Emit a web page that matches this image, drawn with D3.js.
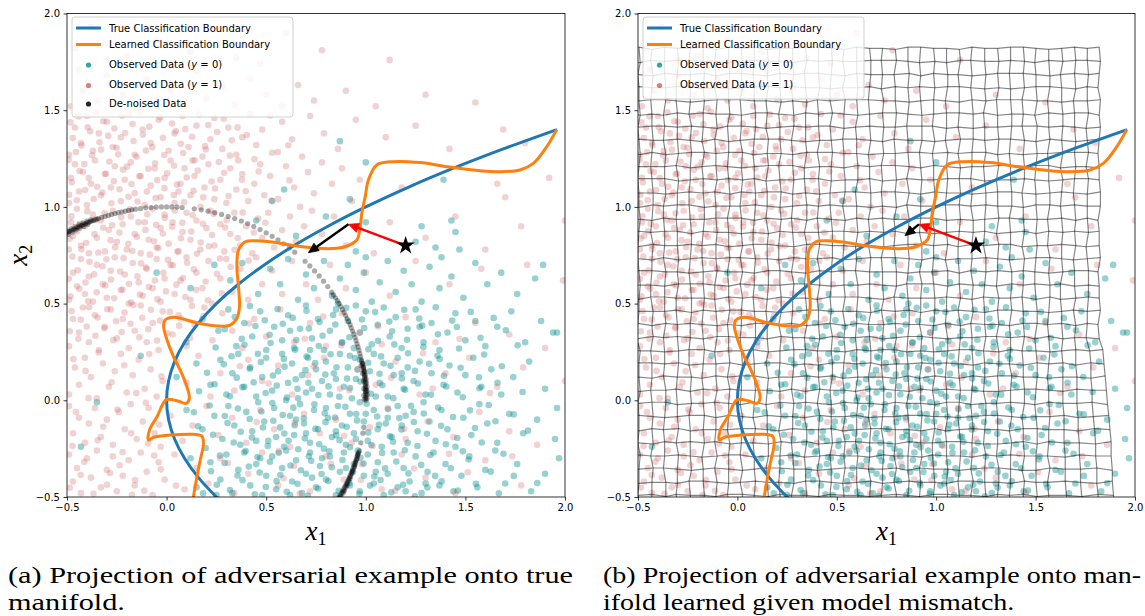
<!DOCTYPE html>
<html>
<head>
<meta charset="utf-8">
<script src="https://cdn.jsdelivr.net/npm/d3@7/dist/d3.min.js"></script>
<style>
  html,body{margin:0;padding:0;background:#fff;}
  svg{display:block;}
</style>
</head>
<body>
<svg id="fig" width="1145" height="616"></svg>
<script>
// ---------------- data ----------------
const tickValues = [-0.5, 0.0, 0.5, 1.0, 1.5, 2.0];

// true decision boundary (x1, x2)
const trueBoundary = [[0.3025,-0.55],[0.25,-0.5],[0.16,-0.4],[0.09,-0.3],[0.04,-0.2],[0.01,-0.1],[0,0],[0.01,0.1],[0.04,0.2],[0.09,0.3],[0.16,0.4],[0.25,0.5],[0.36,0.6],[0.49,0.7],[0.64,0.8],[0.81,0.9],[1.0,1.0],[1.21,1.1],[1.44,1.2],[1.69,1.3],[1.96,1.4]];

// learned decision boundary (x1, x2)
const learnedBoundary = [[0.124,-0.567],[0.135,-0.498],[0.152,-0.395],[0.169,-0.309],[0.185,-0.222],[0.177,-0.185],[0.135,-0.176],[0.018,-0.18],[-0.065,-0.191],[-0.091,-0.205],[-0.086,-0.154],[-0.048,-0.085],[-0.002,0.002],[0.052,-0.002],[0.099,-0.016],[0.114,0.01],[0.102,0.07],[0.068,0.157],[0.035,0.225],[0.002,0.312],[-0.015,0.381],[-0.007,0.415],[0.035,0.429],[0.152,0.401],[0.253,0.384],[0.319,0.389],[0.353,0.424],[0.366,0.484],[0.361,0.587],[0.353,0.691],[0.361,0.777],[0.395,0.82],[0.453,0.825],[0.554,0.815],[0.654,0.798],[0.754,0.786],[0.855,0.786],[0.896,0.794],[0.955,0.829],[0.972,0.898],[0.98,0.967],[0.997,1.053],[1.013,1.139],[1.055,1.217],[1.139,1.234],[1.273,1.229],[1.407,1.208],[1.54,1.191],[1.674,1.182],[1.774,1.191],[1.841,1.225],[1.908,1.311],[1.959,1.401]];

// observed data, class y = 0
const observedY0 = [
[0.65,0.85],[0.8,0.95],[0.87,1.34],[1.0,1.23],[1.39,1.14],[0.59,1.09],[0.92,1.04],[1.43,0.93],[1.28,0.9],[1.45,0.87],[1.35,0.79],[1.47,0.78],[1.38,0.74],[1.25,0.82],[1.0,0.92],[0.95,0.77],[1.89,0.7],[0.53,1.03],[0.45,0.93],
[0.32,0.62],[0.38,0.71],[0.46,0.55],[0.52,0.68],[0.57,0.6],[0.61,0.73],[0.66,0.52],[0.7,0.65],[0.74,0.58],[0.79,0.72],[0.83,0.54],[0.87,0.63],[0.91,0.7],[0.95,0.57],[0.99,0.66],[1.03,0.51],[1.07,0.61],[1.11,0.72],[1.15,0.56],[1.19,0.67],[1.23,0.6],[1.28,0.51],[1.32,0.69],[1.37,0.58],[1.43,0.64],[1.49,0.53],[1.55,0.71],[1.61,0.6],[1.68,0.66],[1.76,0.55],[1.85,0.63],[1.94,0.35],[0.12,0.58],[-0.05,0.66],[0.24,0.7],[1.0,0.74],[0.86,0.5],
[0.1,0.3],[0.18,0.42],[0.26,0.36],[0.31,0.47],[0.35,0.28],[0.39,0.4],[0.43,0.33],[0.47,0.46],[0.5,0.26],[0.54,0.38],[0.58,0.31],[0.61,0.44],[0.64,0.27],[0.67,0.37],[0.7,0.49],[0.73,0.32],[0.76,0.42],[0.79,0.26],[0.82,0.36],[0.85,0.47],[0.88,0.3],[0.91,0.41],[0.94,0.27],[0.97,0.35],[1.0,0.46],[1.03,0.29],[1.06,0.39],[1.09,0.48],[1.12,0.33],[1.15,0.43],[1.18,0.27],[1.21,0.37],[1.25,0.47],[1.29,0.3],[1.33,0.4],[1.37,0.26],[1.41,0.35],[1.45,0.45],[1.5,0.31],[1.55,0.41],[1.6,0.28],[1.66,0.38],[1.73,0.46],[1.8,0.3],[1.88,0.41],[1.96,0.35],[0.95,0.49],[0.72,0.26],[1.27,0.38],[0.62,0.36],
[-0.13,0.23],[0.05,0.12],[0.15,0.19],[0.22,0.08],[0.27,0.21],[0.3,0.03],[0.33,0.14],[0.36,0.24],[0.39,0.07],[0.42,0.17],[0.45,0.02],[0.48,0.12],[0.5,0.22],[0.53,0.05],[0.56,0.15],[0.58,0.24],[0.61,0.09],[0.63,0.19],[0.66,0.01],[0.68,0.13],[0.71,0.22],[0.73,0.06],[0.75,0.16],[0.78,0.1],[0.8,0.2],[0.82,0.03],[0.84,0.14],[0.87,0.24],[0.89,0.07],[0.91,0.17],[0.93,0.01],[0.95,0.11],[0.97,0.21],[1.0,0.05],[1.02,0.15],[1.04,0.24],[1.07,0.09],[1.09,0.19],[1.11,0.02],[1.14,0.13],[1.16,0.22],[1.19,0.06],[1.21,0.17],[1.24,0.1],[1.27,0.2],[1.3,0.03],[1.33,0.14],[1.36,0.23],[1.39,0.08],[1.42,0.18],[1.46,0.04],[1.5,0.13],[1.54,0.22],[1.58,0.07],[1.63,0.16],[1.68,0.03],[1.74,0.12],[1.82,0.2],[1.9,0.06],[1.96,-0.04],[0.6,0.0],[0.85,0.11],[1.05,0.02],[0.7,0.04],[0.92,0.23],[1.18,0.14],
[-0.35,-0.01],[-0.43,-0.24],[0.1,-0.05],[0.18,-0.15],[0.24,-0.08],[0.28,-0.2],[0.31,-0.03],[0.34,-0.13],[0.37,-0.23],[0.4,-0.06],[0.43,-0.16],[0.46,-0.01],[0.49,-0.11],[0.51,-0.21],[0.54,-0.04],[0.57,-0.14],[0.59,-0.24],[0.62,-0.08],[0.64,-0.18],[0.67,-0.02],[0.69,-0.12],[0.72,-0.22],[0.74,-0.05],[0.76,-0.15],[0.79,-0.25],[0.81,-0.09],[0.83,-0.19],[0.86,-0.03],[0.88,-0.13],[0.9,-0.23],[0.92,-0.07],[0.94,-0.17],[0.97,-0.01],[0.99,-0.11],[1.01,-0.21],[1.04,-0.05],[1.06,-0.15],[1.08,-0.24],[1.11,-0.09],[1.13,-0.19],[1.16,-0.03],[1.18,-0.13],[1.21,-0.22],[1.24,-0.06],[1.26,-0.16],[1.29,-0.01],[1.32,-0.11],[1.35,-0.21],[1.38,-0.05],[1.41,-0.15],[1.45,-0.24],[1.49,-0.09],[1.53,-0.18],[1.57,-0.02],[1.61,-0.12],[1.66,-0.22],[1.72,-0.07],[1.79,-0.17],[1.86,-0.1],[1.95,-0.2],[0.65,-0.1],[0.8,-0.04],[0.95,-0.2],[1.1,-0.12],[0.55,-0.19],[0.85,-0.16],[1.2,-0.08],[0.7,-0.17],[1.0,-0.07],[0.45,-0.21],
[0.15,-0.45],[0.22,-0.32],[0.27,-0.41],[0.3,-0.28],[0.33,-0.48],[0.36,-0.36],[0.39,-0.27],[0.42,-0.44],[0.45,-0.33],[0.48,-0.49],[0.5,-0.39],[0.53,-0.29],[0.55,-0.46],[0.58,-0.35],[0.6,-0.26],[0.63,-0.42],[0.65,-0.31],[0.68,-0.48],[0.7,-0.38],[0.72,-0.27],[0.75,-0.45],[0.77,-0.34],[0.8,-0.41],[0.82,-0.29],[0.85,-0.49],[0.87,-0.37],[0.89,-0.27],[0.92,-0.44],[0.94,-0.33],[0.97,-0.47],[0.99,-0.39],[1.01,-0.28],[1.04,-0.43],[1.06,-0.32],[1.09,-0.49],[1.11,-0.38],[1.14,-0.27],[1.16,-0.45],[1.19,-0.35],[1.22,-0.42],[1.25,-0.29],[1.28,-0.48],[1.31,-0.37],[1.34,-0.27],[1.37,-0.44],[1.4,-0.33],[1.44,-0.47],[1.48,-0.39],[1.52,-0.29],[1.56,-0.45],[1.6,-0.36],[1.65,-0.26],[1.7,-0.43],[1.76,-0.33],[1.83,-0.47],[1.9,-0.38],[1.97,-0.3],[0.62,-0.49],[0.78,-0.3],[0.9,-0.35],[1.05,-0.37],[1.2,-0.47],[0.47,-0.3],[0.73,-0.4],[0.96,-0.26],[1.3,-0.43],[0.25,-0.49],[0.12,-0.3],
[0.342,0.431],[0.418,0.487],[0.493,0.414],[0.557,0.472],[0.633,0.426],[0.702,0.463],[0.768,0.405],[0.836,0.441],[0.902,0.478],[0.981,0.418],[1.047,0.456],[1.118,0.407],[1.193,0.468],[1.268,0.423],[1.351,0.481],[1.434,0.412],[1.527,0.457],[1.642,0.426],
[0.292,0.367],[0.377,0.318],[0.446,0.384],[0.517,0.339],[0.583,0.396],[0.651,0.312],[0.714,0.371],[0.783,0.334],[0.847,0.392],[0.918,0.326],[0.992,0.374],[1.061,0.308],[1.132,0.357],[1.207,0.313],[1.283,0.386],[1.362,0.341],[1.457,0.379],[1.576,0.323],[1.703,0.362],
[0.246,0.273],[0.326,0.228],[0.391,0.287],[0.458,0.241],[0.522,0.296],[0.589,0.213],[0.646,0.262],[0.703,0.226],[0.764,0.281],[0.823,0.238],[0.881,0.297],[0.946,0.219],[1.013,0.264],[1.077,0.227],[1.143,0.289],[1.212,0.243],[1.289,0.276],[1.371,0.214],[1.468,0.268],[1.594,0.237],[1.762,0.284],
[0.203,0.142],[0.287,0.186],[0.352,0.117],[0.417,0.163],[0.473,0.198],[0.534,0.128],[0.592,0.174],[0.648,0.109],[0.697,0.156],[0.746,0.192],[0.797,0.133],[0.853,0.171],[0.906,0.112],[0.958,0.159],[1.012,0.194],[1.069,0.137],[1.124,0.178],[1.181,0.113],[1.247,0.152],[1.318,0.189],[1.392,0.127],[1.476,0.168],[1.568,0.119],[1.683,0.176],
[0.163,0.047],[0.241,0.083],[0.318,0.021],[0.381,0.068],[0.437,0.093],[0.497,0.038],[0.553,0.076],[0.604,0.014],[0.657,0.059],[0.712,0.091],[0.762,0.027],[0.813,0.072],[0.867,0.018],[0.921,0.063],[0.973,0.097],[1.026,0.034],[1.083,0.078],[1.138,0.011],[1.197,0.054],[1.262,0.087],[1.327,0.029],[1.404,0.071],[1.487,0.016],[1.571,0.062],[1.661,0.091],[1.787,0.043],
[0.137,-0.062],[0.216,-0.027],[0.292,-0.081],[0.358,-0.043],[0.417,-0.097],[0.476,-0.058],[0.531,-0.014],[0.583,-0.076],[0.636,-0.038],[0.689,-0.093],[0.742,-0.021],[0.794,-0.067],[0.846,-0.089],[0.897,-0.033],[0.952,-0.071],[1.004,-0.018],[1.057,-0.084],[1.112,-0.046],[1.168,-0.092],[1.227,-0.029],[1.291,-0.068],[1.363,-0.037],[1.438,-0.086],[1.523,-0.052],[1.617,-0.024],[1.742,-0.073],
[0.158,-0.134],[0.233,-0.178],[0.306,-0.117],[0.372,-0.163],[0.428,-0.192],[0.483,-0.141],[0.536,-0.106],[0.591,-0.172],[0.643,-0.129],[0.694,-0.197],[0.747,-0.148],[0.798,-0.113],[0.851,-0.181],[0.904,-0.137],[0.956,-0.104],[1.012,-0.166],[1.066,-0.127],[1.121,-0.186],[1.179,-0.151],[1.241,-0.112],[1.307,-0.173],[1.378,-0.132],[1.459,-0.195],[1.548,-0.143],[1.651,-0.108],[1.814,-0.157],
[0.196,-0.247],[0.268,-0.286],[0.337,-0.218],[0.397,-0.262],[0.456,-0.293],[0.508,-0.236],[0.563,-0.271],[0.612,-0.209],[0.661,-0.253],[0.714,-0.289],[0.766,-0.227],[0.817,-0.264],[0.868,-0.206],[0.921,-0.243],[0.973,-0.297],[1.028,-0.231],[1.082,-0.272],[1.137,-0.214],[1.196,-0.258],[1.259,-0.236],[1.324,-0.283],[1.402,-0.227],[1.487,-0.264],[1.582,-0.218],[1.691,-0.276],
[0.223,-0.367],[0.291,-0.324],[0.356,-0.389],[0.413,-0.342],[0.467,-0.373],[0.519,-0.318],[0.571,-0.386],[0.622,-0.337],[0.674,-0.362],[0.726,-0.313],[0.778,-0.381],[0.829,-0.346],[0.883,-0.309],[0.936,-0.371],[0.989,-0.327],[1.043,-0.394],[1.097,-0.352],[1.153,-0.317],[1.214,-0.378],[1.278,-0.334],[1.348,-0.391],[1.427,-0.351],[1.516,-0.306],[1.627,-0.369],[1.743,-0.391],
[0.183,-0.481],[0.252,-0.437],[0.318,-0.464],[0.381,-0.413],[0.443,-0.486],[0.498,-0.448],[0.552,-0.418],[0.603,-0.473],[0.657,-0.432],[0.709,-0.494],[0.761,-0.456],[0.812,-0.417],[0.864,-0.468],[0.917,-0.427],[0.968,-0.483],[1.021,-0.441],[1.074,-0.412],[1.128,-0.476],[1.187,-0.437],[1.246,-0.496],[1.309,-0.451],[1.381,-0.419],[1.462,-0.467],[1.553,-0.432],[1.668,-0.481],[1.861,-0.428]
];

// observed data, class y = 1
const observedY1 = [
[-0.46,1.82],[-0.38,1.93],[-0.2,1.78],[-0.05,1.86],[0.12,1.8],[0.35,1.77],[0.6,1.9],[0.78,1.81],[1.12,1.76],[-0.3,1.76],[0.45,1.85],
[-0.48,1.52],[-0.42,1.6],[-0.35,1.55],[-0.3,1.68],[-0.22,1.58],[-0.15,1.51],[-0.1,1.66],[-0.05,1.55],[0.02,1.6],[0.08,1.52],[0.15,1.7],[0.2,1.56],[0.28,1.62],[0.34,1.53],[0.42,1.66],[0.5,1.58],[0.58,1.52],[0.66,1.63],[0.74,1.55],[0.9,1.6],[1.05,1.52],[1.3,1.58],[1.55,1.54],[-0.44,1.71],[0.12,1.64],[0.47,1.74],
[-0.49,1.27],[-0.46,1.41],[-0.43,1.33],[-0.4,1.47],[-0.37,1.29],[-0.34,1.38],[-0.3,1.44],[-0.27,1.31],[-0.23,1.36],[-0.19,1.48],[-0.16,1.27],[-0.12,1.4],[-0.08,1.33],[-0.04,1.45],[0.01,1.29],[0.04,1.38],[0.08,1.47],[0.11,1.31],[0.15,1.42],[0.18,1.26],[0.22,1.35],[0.24,1.46],[0.28,1.3],[0.31,1.41],[0.35,1.27],[0.38,1.36],[0.42,1.48],[0.45,1.32],[0.48,1.4],[0.53,1.28],[0.58,1.44],[0.63,1.35],[0.68,1.26],[0.72,1.47],[0.79,1.38],[0.86,1.3],[0.95,1.45],[1.1,1.36],[1.25,1.42],[1.42,1.3],[1.69,1.4],[1.8,1.33],
[-0.49,1.02],[-0.48,1.15],[-0.46,1.22],[-0.44,1.08],[-0.42,1.18],[-0.4,1.01],[-0.38,1.12],[-0.36,1.24],[-0.33,1.06],[-0.31,1.17],[-0.28,1.1],[-0.26,1.21],[-0.23,1.03],[-0.21,1.14],[-0.18,1.23],[-0.16,1.07],[-0.13,1.16],[-0.11,1.01],[-0.08,1.11],[-0.06,1.2],[-0.03,1.05],[-0.01,1.15],[0.02,1.24],[0.04,1.02],[0.07,1.12],[0.09,1.2],[0.12,1.06],[0.14,1.16],[0.17,1.0],[0.19,1.1],[0.21,1.22],[0.24,1.04],[0.13,1.24],[0.06,1.08],[0.27,1.14],[0.3,1.02],[0.32,1.2],[0.35,1.09],[0.38,1.17],[0.41,1.03],[0.44,1.12],[0.47,1.22],[0.49,1.06],[0.36,1.24],[0.52,1.16],[0.56,1.04],[0.6,1.21],[0.64,1.1],[0.67,1.0],[0.71,1.18],[0.74,1.07],[0.78,1.23],[0.83,1.12],[0.88,1.2],[0.93,1.03],[0.97,1.14],[1.18,1.1],[1.66,1.12],[1.7,1.05],[1.92,1.15],
[-0.49,0.78],[-0.48,0.92],[-0.47,0.85],[-0.45,0.99],[-0.43,0.8],[-0.41,0.9],[-0.39,0.76],[-0.37,0.96],[-0.35,0.84],[-0.33,0.93],[-0.31,0.77],[-0.29,0.88],[-0.27,0.98],[-0.25,0.82],[-0.22,0.91],[-0.2,0.78],[-0.18,0.95],[-0.16,0.86],[-0.13,0.76],[-0.11,0.92],[-0.09,0.83],[-0.07,0.99],[-0.05,0.79],[-0.03,0.89],[-0.01,0.96],[0.01,0.81],[0.03,0.92],[0.06,0.77],[0.08,0.87],[0.1,0.97],[0.12,0.83],[0.15,0.93],[0.17,0.78],[0.2,0.89],[0.22,0.98],[0.24,0.8],[0.27,0.91],[0.29,0.77],[0.32,0.86],[0.34,0.97],[0.37,0.8],[0.4,0.9],[0.43,0.76],[0.46,0.94],[0.48,0.84],[0.51,0.97],[0.54,0.79],[0.58,0.88],[0.62,0.95],[0.65,0.82],[0.69,0.9],[0.73,0.98],[0.78,0.86],[0.84,0.95],[0.9,0.8],[0.96,0.88],[1.04,0.76],[1.12,0.92],[1.3,0.84],[1.45,0.95],[1.6,0.78],[1.78,0.9],[2.0,0.93],
[-0.49,0.52],[-0.47,0.66],[-0.45,0.59],[-0.43,0.73],[-0.41,0.55],[-0.39,0.64],[-0.37,0.51],[-0.35,0.7],[-0.32,0.6],[-0.3,0.53],[-0.28,0.67],[-0.26,0.74],[-0.23,0.57],[-0.21,0.65],[-0.19,0.5],[-0.17,0.71],[-0.14,0.61],[-0.12,0.54],[-0.1,0.68],[-0.07,0.58],[-0.05,0.73],[-0.03,0.51],[-0.01,0.63],[0.02,0.7],[0.04,0.55],[0.07,0.62],[0.1,0.74],[0.12,0.52],[0.15,0.66],[0.18,0.58],[0.21,0.72],[0.23,0.5],[0.27,0.63],[0.3,0.73],[0.33,0.56],[0.37,0.68],[0.41,0.52],[0.45,0.74],[0.48,0.6],[0.53,0.67],[0.58,0.55],[0.63,0.72],[0.7,0.6],[0.76,0.52],[0.82,0.7],[0.9,0.58],[1.0,0.66],[1.12,0.54],[1.25,0.72],[1.42,0.6],[1.58,0.68],[1.81,0.7],[1.99,0.62],
[-0.49,0.28],[-0.47,0.42],[-0.44,0.35],[-0.42,0.48],[-0.39,0.3],[-0.36,0.44],[-0.34,0.26],[-0.31,0.38],[-0.28,0.47],[-0.25,0.32],[-0.22,0.42],[-0.19,0.27],[-0.16,0.36],[-0.13,0.49],[-0.1,0.3],[-0.07,0.4],[-0.04,0.26],[-0.02,0.46],[0.03,0.34],[0.06,0.44],[0.1,0.28],[0.14,0.39],[0.19,0.48],[0.23,0.31],[0.28,0.45],[0.33,0.36],[0.38,0.27],[0.44,0.42],[0.5,0.33],[0.57,0.47],[0.64,0.3],[0.72,0.4],[0.8,0.28],[0.88,0.45],[0.97,0.35],[1.08,0.29],[1.2,0.43],[1.35,0.3],[1.55,0.4],[1.72,0.34],[1.9,0.27],
[-0.49,0.03],[-0.46,0.17],[-0.44,0.08],[-0.41,0.22],[-0.38,0.12],[-0.35,0.01],[-0.32,0.19],[-0.29,0.07],[-0.26,0.15],[-0.23,0.24],[-0.2,0.04],[-0.17,0.13],[-0.14,0.21],[-0.11,0.06],[-0.08,0.16],[-0.05,0.02],[-0.02,0.1],[0.05,0.2],[0.1,0.09],[0.16,0.23],[0.22,0.02],[0.27,0.14],[0.34,0.05],[0.41,0.21],[0.48,0.1],[0.56,0.18],[0.63,0.03],[0.71,0.13],[0.79,0.22],[0.87,0.06],[0.96,0.16],[1.05,0.08],[1.15,0.2],[1.27,0.03],[1.4,0.14],[1.52,0.22],[1.66,0.07],[1.79,0.17],[2.0,0.1],
[-0.49,-0.03],[-0.47,-0.17],[-0.44,-0.09],[-0.41,-0.22],[-0.39,-0.12],[-0.36,-0.04],[-0.33,-0.19],[-0.3,-0.1],[-0.27,-0.23],[-0.24,-0.06],[-0.21,-0.15],[-0.18,-0.02],[-0.15,-0.2],[-0.12,-0.11],[-0.09,-0.04],[-0.06,-0.17],[-0.03,-0.24],[0.02,-0.08],[0.08,-0.21],[0.13,-0.13],[0.2,-0.03],[0.26,-0.18],[0.33,-0.09],[0.4,-0.22],[0.47,-0.05],[0.54,-0.15],[0.62,-0.24],[0.69,-0.07],[0.77,-0.17],[0.85,-0.1],[0.93,-0.22],[1.02,-0.14],[1.11,-0.04],[1.2,-0.2],[1.31,-0.11],[1.44,-0.19],[1.57,-0.06],[1.72,-0.16],[1.86,-0.23],
[-0.49,-0.28],[-0.47,-0.42],[-0.45,-0.35],[-0.43,-0.48],[-0.4,-0.3],[-0.38,-0.4],[-0.35,-0.26],[-0.33,-0.45],[-0.3,-0.36],[-0.27,-0.29],[-0.25,-0.47],[-0.22,-0.39],[-0.19,-0.31],[-0.16,-0.44],[-0.13,-0.27],[-0.1,-0.37],[-0.07,-0.49],[-0.04,-0.32],[-0.01,-0.41],[0.04,-0.28],[0.09,-0.46],[0.15,-0.35],[0.21,-0.43],[0.27,-0.3],[0.34,-0.48],[0.41,-0.38],[0.48,-0.27],[0.56,-0.44],[0.64,-0.34],[0.72,-0.47],[0.8,-0.29],[0.89,-0.41],[0.98,-0.33],[1.08,-0.46],[1.18,-0.28],[1.3,-0.4],[1.45,-0.48],[1.6,-0.31],[1.78,-0.44],
[-0.483,1.437],[-0.441,1.468],[-0.396,1.412],[-0.352,1.489],[-0.318,1.443],[-0.262,1.405],[-0.224,1.471],[-0.171,1.428],[-0.133,1.492],[-0.087,1.415],[-0.031,1.463],[0.027,1.431],[0.094,1.402],[0.163,1.478],[0.209,1.423],[0.287,1.456],[0.356,1.411],[0.519,1.473],
[-0.471,1.356],[-0.427,1.318],[-0.384,1.391],[-0.337,1.334],[-0.293,1.367],[-0.251,1.306],[-0.208,1.382],[-0.166,1.341],[-0.119,1.373],[-0.072,1.309],[-0.018,1.357],[0.046,1.392],[0.071,1.326],[0.128,1.363],[0.193,1.314],[0.254,1.387],[0.327,1.345],[0.403,1.372],[0.611,1.319],
[-0.492,1.243],[-0.455,1.284],[-0.413,1.221],[-0.374,1.267],[-0.329,1.296],[-0.287,1.235],[-0.243,1.272],[-0.199,1.208],[-0.151,1.259],[-0.104,1.291],[-0.058,1.226],[-0.012,1.268],[0.038,1.213],[0.083,1.279],[0.141,1.241],[0.197,1.297],[0.262,1.232],[0.318,1.265],[0.441,1.247],[0.558,1.283],
[-0.476,1.127],[-0.437,1.186],[-0.391,1.149],[-0.348,1.104],[-0.304,1.171],[-0.265,1.133],[-0.219,1.192],[-0.176,1.118],[-0.137,1.158],[-0.092,1.197],[-0.047,1.139],[0.003,1.174],[0.052,1.115],[0.101,1.152],[0.156,1.188],[0.226,1.131],[0.289,1.176],[0.378,1.141],[0.462,1.183],[0.617,1.137],
[-0.489,1.063],[-0.451,1.034],[-0.409,1.087],[-0.366,1.041],[-0.322,1.074],[-0.277,1.019],[-0.236,1.091],[-0.191,1.052],[-0.146,1.028],[-0.099,1.079],[-0.055,1.046],[-0.011,1.097],[0.036,1.061],[0.088,1.024],[0.135,1.083],[0.184,1.049],[0.243,1.095],[0.311,1.056],[0.397,1.081],[0.527,1.033],
[-0.478,0.951],[-0.436,0.912],[-0.398,0.978],[-0.356,0.934],[-0.311,0.967],[-0.273,0.905],[-0.228,0.946],[-0.184,0.988],[-0.141,0.921],[-0.097,0.962],[-0.052,0.907],[-0.009,0.943],[0.041,0.982],[0.079,0.918],[0.131,0.957],[0.182,0.913],[0.236,0.964],[0.301,0.931],[0.382,0.971],[0.496,0.918],
[-0.487,0.836],[-0.449,0.874],[-0.404,0.813],[-0.362,0.859],[-0.318,0.892],[-0.281,0.828],[-0.237,0.867],[-0.192,0.809],[-0.149,0.846],[-0.106,0.881],[-0.063,0.822],[-0.019,0.862],[0.028,0.897],[0.072,0.838],[0.124,0.873],[0.171,0.816],[0.228,0.855],[0.294,0.893],[0.357,0.839],[0.438,0.868],
[-0.473,0.743],[-0.428,0.781],[-0.387,0.716],[-0.343,0.764],[-0.302,0.729],[-0.258,0.792],[-0.216,0.735],[-0.172,0.772],[-0.128,0.708],[-0.084,0.753],[-0.041,0.787],[0.007,0.726],[0.054,0.769],[0.103,0.711],[0.152,0.758],[0.213,0.796],[0.268,0.733],[0.341,0.778],[0.412,0.722],
[-0.491,0.628],[-0.446,0.672],[-0.407,0.609],[-0.364,0.651],[-0.322,0.693],[-0.279,0.624],[-0.233,0.666],[-0.189,0.603],[-0.146,0.641],[-0.104,0.687],[-0.059,0.619],[-0.016,0.659],[0.031,0.698],[0.082,0.632],[0.137,0.677],[0.196,0.614],[0.253,0.654],[0.321,0.689],
[-0.482,0.538],[-0.438,0.577],[-0.394,0.512],[-0.351,0.559],[-0.308,0.594],[-0.263,0.528],[-0.221,0.571],[-0.178,0.506],[-0.134,0.547],[-0.089,0.586],[-0.046,0.523],[-0.003,0.563],[0.049,0.598],[0.094,0.534],[0.148,0.571],[0.207,0.517],[0.278,0.552],
[-0.477,0.462],[-0.431,0.417],[-0.389,0.481],[-0.346,0.428],[-0.298,0.471],[-0.254,0.409],[-0.211,0.454],[-0.167,0.493],[-0.122,0.427],[-0.079,0.468],[-0.033,0.412],[0.016,0.457],[0.071,0.423],[0.127,0.488],[0.186,0.436],
[-0.486,0.357],[-0.443,0.318],[-0.401,0.381],[-0.357,0.334],[-0.313,0.372],[-0.268,0.311],[-0.226,0.353],[-0.181,0.396],[-0.137,0.326],[-0.092,0.368],[-0.048,0.309],[0.004,0.347],[0.063,0.386],[0.118,0.322],
[-0.468,0.213],[-0.407,0.152],[-0.341,0.247],[-0.276,0.093],[-0.213,0.181],[-0.152,0.037],[-0.087,0.239],[-0.026,0.124],[-0.455,-0.061],[-0.392,0.011],[-0.318,-0.137],[-0.247,-0.048],[-0.178,-0.171],[-0.104,-0.013],[-0.037,-0.126],[-0.472,-0.236],[-0.413,-0.318],[-0.346,-0.207],[-0.284,-0.376],[-0.221,-0.268],[-0.158,-0.412],[-0.093,-0.224],[-0.029,-0.357],[0.047,-0.441],[-0.486,-0.452],[-0.431,-0.386],[-0.367,-0.483],[-0.299,-0.437],[-0.236,-0.336],[-0.174,-0.489],[-0.112,-0.468],[-0.062,-0.286],
[0.512,0.087],[0.643,-0.118],[0.738,0.176],[0.824,-0.327],[0.917,0.052],[1.034,-0.236],[1.127,0.117],[1.243,-0.353],[1.336,0.061],[1.418,-0.277],[0.587,-0.403],[0.694,0.318],[0.877,0.284],[1.061,0.382],[1.193,-0.147],[0.452,-0.112],[0.368,0.176],[0.563,-0.263],[0.976,-0.412],[1.512,-0.372],[1.623,0.038],[1.735,-0.289],[0.308,-0.324],[0.414,0.397],[0.786,0.433],[1.287,0.243],[1.471,0.317],[0.668,-0.482],[0.892,-0.183],[1.148,-0.468]
];

// de-noised data (projection onto the true manifold)
const denoised = [
[-0.5,0.866],[-0.492,0.871],[-0.485,0.875],[-0.477,0.879],[-0.469,0.883],[-0.461,0.887],[-0.454,0.891],[-0.446,0.895],[-0.438,0.899],[-0.43,0.903],[-0.423,0.906],[-0.415,0.91],[-0.407,0.914],[-0.399,0.917],[-0.391,0.921],[-0.383,0.924],[-0.375,0.927],[-0.367,0.93],[-0.358,0.934],[-0.35,0.937],[-0.342,0.94],
[-0.497,0.876],[-0.478,0.888],[-0.46,0.898],[-0.44,0.909],[-0.42,0.918],[-0.4,0.926],[-0.38,0.934],
[-0.494,0.857],[-0.474,0.869],[-0.455,0.88],[-0.436,0.89],[-0.416,0.899],[-0.396,0.909],
[-0.326,0.946],[-0.309,0.951],[-0.292,0.956],[-0.276,0.961],[-0.259,0.966],[-0.242,0.97],[-0.225,0.974],[-0.208,0.978],[-0.191,0.982],[-0.174,0.985],
[-0.156,0.988],[-0.131,0.991],[-0.105,0.995],[-0.078,0.997],[-0.052,0.999],[-0.026,1.0],[0,1.0],[0.026,1.0],[0.052,0.999],[0.078,0.997],
[0.139,0.99],[0.174,0.985],[0.208,0.978],[0.242,0.97],[0.276,0.961],[0.309,0.951],[0.342,0.94],[0.375,0.927],[0.407,0.914],[0.438,0.899],[0.469,0.883],[0.5,0.866],[0.53,0.848],[0.559,0.829],[0.588,0.809],[0.616,0.788],[0.643,0.766],
[0.695,0.719],[0.719,0.695],[0.743,0.669],[0.766,0.643],[0.788,0.616],[0.809,0.588],[0.829,0.559],[0.838,0.545],[0.848,0.53],[0.857,0.515],[0.866,0.5],[0.875,0.485],[0.883,0.469],[0.891,0.454],[0.899,0.438],[0.906,0.423],[0.914,0.407],[0.921,0.391],[0.927,0.375],[0.934,0.358],[0.94,0.342],[0.946,0.326],[0.951,0.309],[0.956,0.292],[0.961,0.276],[0.966,0.259],[0.97,0.242],[0.974,0.225],
[0.978,0.208],[0.98,0.2],[0.983,0.191],[0.985,0.183],[0.986,0.174],[0.988,0.165],[0.99,0.156],[0.991,0.148],[0.992,0.139],[0.993,0.13],[0.994,0.122],[0.995,0.113],[0.996,0.105],[0.997,0.096],[0.997,0.087],[0.998,0.078],[0.998,0.07],[0.999,0.061],[0.999,0.052],[1.0,0.044],[1.0,0.035],[1.0,0.026],[1.0,0.017],[1.0,0.009],[1.0,0.0],
[0.985,0.19],[0.99,0.17],[0.994,0.15],[0.998,0.13],[1.002,0.11],[1.004,0.09],[1.006,0.07],[1.006,0.05],[1.007,0.03],[1.006,0.01],[0.992,0.005],[0.99,0.025],[0.99,0.06],[0.988,0.1],[0.983,0.14],[0.976,0.18],
[0.99,-0.14],[0.985,-0.17],[0.975,-0.22],
[0.963,-0.27],[0.959,-0.282],[0.956,-0.292],[0.952,-0.305],[0.948,-0.317],[0.944,-0.33],[0.94,-0.342],[0.935,-0.354],[0.931,-0.366],[0.927,-0.375],[0.922,-0.387],[0.918,-0.397],[0.914,-0.407],[0.909,-0.418],[0.904,-0.428],[0.899,-0.438],[0.894,-0.448],[0.889,-0.458],[0.883,-0.469],[0.878,-0.479],[0.872,-0.49],[0.866,-0.5],[0.86,-0.51],
[0.962,-0.276],[0.953,-0.31],[0.943,-0.345],[0.93,-0.38],[0.915,-0.415],[0.9,-0.45],[0.885,-0.48],
[0.958,-0.285],[0.949,-0.322],[0.937,-0.36],[0.924,-0.395],[0.907,-0.432],[0.893,-0.465],[0.876,-0.495],[0.968,-0.262],[0.957,-0.3],[0.946,-0.335],[0.933,-0.37],[0.92,-0.405],[0.905,-0.44],[0.889,-0.472],[0.871,-0.505]
];

// adversarial example and its projections
const adversarial = [1.2, 0.8];
const attackTarget = [0.913, 0.91];
const projectionA = [0.712, 0.763];
const projectionB = [0.843, 0.851];

// learned manifold mesh: nominal lattice lines and per-vertex displacement codes (base 36)
const meshX = [-0.56,-0.495,-0.43,-0.366,-0.302,-0.237,-0.172,-0.108,-0.044,0.02,0.085,0.15,0.214,0.278,0.343,0.408,0.472,0.536,0.6,0.665,0.73,0.794,0.858,0.922,0.987,1.052,1.116,1.18,1.244,1.309,1.374,1.438,1.502,1.566,1.631,1.696,1.76,1.82];
const meshY = [-0.56,-0.492,-0.424,-0.356,-0.288,-0.22,-0.152,-0.084,-0.016,0.052,0.12,0.188,0.256,0.324,0.392,0.46,0.528,0.596,0.664,0.732,0.8,0.868,0.936,1.004,1.072,1.14,1.208,1.276,1.344,1.412,1.48,1.548,1.616,1.684,1.752,1.82];
const meshShiftX = [
"443544534455433445344544355434453444","534453443544523445433454434543544354","344535454344354533445345543454434534","455344345534435444534433544534355444",
"434453544345544335454434453544433454","543544435453344554345543344545344434","354435454434543454433455443534454544","445353443544355433544544354435453434",
"534445344535443544354435543443544544","453534453445434453535443454534435454","345443534544355434453345544345544344","454355443453544345544534435453435454",
"543445354434453554433454543544354434","435543445345543445355434454435543544","454435534453435543445355433544454354","345354453544354435535434545354435444",
"534435444355453434455543344543533454","443545354434545354434453554434453534","354453445354434455343544355443545444","545344534435543544453435544354434554",
"434455345543445354435544343545453434","453534434455354435543435454434544354","345445543544345543454453535443454544","534354454435453445355344454355543434",
"445433545354434554344535544353445454","354544354434553445535443454534435544","543455434543455354433454545353444354","435344543455443545344553434455543434",
"454453455344354434553445543544354544","345534443545535453445354435454435454","534445354453443545534435544345544344","445354435544354434453544355453435454",
"354445543455435543345454434545354434","543534454434543455453435544354435544","887776665555454433544543453545544354","aa9988776665545354435454345454435454",
"ddccbba98877634455543544453543544544","ggffeedcba98743544354435544345453454"
];
const meshShiftY = [
"45344535443545344535543445354435443545","34535443554354435443454355443545344354","53443554345443554345345443554435445435","44554345434554434554453544345543354453",
"35445434553445345443544354435454443544","54354545344354534554435445543345354435","43545344455435445345544353454435544354","45434553543544354453445544345543445345",
"34553445435354543544354435534454354453","53445354544435354435543545443345543544","44354435455344545344435354354554434435","35545344534553435545344545435443545354",
"54434553445345544354553434554354434545","43545435544354435445345543445545353443","45354543435545345354454435354435545354","34445354554434554443545354543554434545",
"53554443545354435554354445435445353454","44435554354445543445435553544354545343","35544345443554354554443445354545434554","54353454554435445345554353445434554345",
"43544545345543554434345545354553445434","45455354434354445545453434545345354545","34354445553545354354544553434554445353","53545534445434545443435445545443554544",
"44434545354553434554554354434554345435","35553454545344553445345445553445434554","54445345434555344354554354344554553443","43534554553443555443445545455343445554",
"45445435345554344554354434554554354345","34554543554345455345445553434455545434","53435454435543545434554345545344354553","44554345554434354555443454354555443445",
"35445534345545443445354545543434554354","54354453554354554354445354434555434545","43545544345443545445554343554454354554","45354453545344554354435544354455434545"
];

// ---------------- layout ----------------
const svg = d3.select('#fig');
const FONT = '"DejaVu Sans", sans-serif';
const SERIF = '"Liberation Serif", serif';
const BLUE = '#1f77b4', ORANGE = '#ff7f0e';
const TEAL = 'rgb(0,139,139)', PINK = 'rgb(205,92,92)';

const panels = [
  {key:'a', left:67, right:565, top:13.5, bottom:497, denoise:true, mesh:false,
   projection: projectionA, legend:{x:72, y:17, w:221, h:100},
   caption:['(a) Projection of adversarial example onto true','manifold.'], capX:8, capLen:565, yLabel:true},
  {key:'b', left:638, right:1135, top:13.5, bottom:497, denoise:false, mesh:true,
   projection: projectionB, legend:{x:643, y:17, w:221, h:82},
   caption:['(b) Projection of adversarial example onto man-','ifold learned given model mismatch.'], capX:603, capLen:538, yLabel:false}
];

function drawArrow(g, p0, p1, color, width, headLen, headHalf) {
  const dx = p1[0]-p0[0], dy = p1[1]-p0[1];
  const len = Math.hypot(dx, dy), ux = dx/len, uy = dy/len;
  const bx = p1[0]-ux*headLen, by = p1[1]-uy*headLen;
  g.append('line').attr('x1',p0[0]).attr('y1',p0[1]).attr('x2',bx+ux).attr('y2',by+uy)
    .attr('stroke',color).attr('stroke-width',width);
  g.append('path')
    .attr('d',`M${p1[0]},${p1[1]}L${bx-uy*headHalf},${by+ux*headHalf}L${bx+uy*headHalf},${by-ux*headHalf}Z`)
    .attr('fill',color).attr('stroke',color).attr('stroke-width',0.8);
}

panels.forEach(p => {
  const x = d3.scaleLinear().domain([-0.5, 2.0]).range([p.left, p.right]);
  const y = d3.scaleLinear().domain([-0.5, 2.0]).range([p.bottom, p.top]);
  const g = svg.append('g');

  g.append('clipPath').attr('id','clip-'+p.key).append('rect')
    .attr('x',p.left).attr('y',p.top).attr('width',p.right-p.left).attr('height',p.bottom-p.top);
  const plot = g.append('g').attr('clip-path',`url(#clip-${p.key})`);

  // observed data
  plot.append('g').selectAll('circle').data(observedY0).join('circle')
    .attr('cx',d=>x(d[0])).attr('cy',d=>y(d[1])).attr('r',3.3)
    .attr('fill',TEAL).attr('fill-opacity',0.4);
  plot.append('g').selectAll('circle').data(observedY1).join('circle')
    .attr('cx',d=>x(d[0])).attr('cy',d=>y(d[1])).attr('r',3.3)
    .attr('fill',PINK).attr('fill-opacity',0.28);

  if (p.denoise) {
    plot.append('g').selectAll('circle').data(denoised).join('circle')
      .attr('cx',d=>x(d[0])).attr('cy',d=>y(d[1])).attr('r',2.6)
      .attr('fill','#000').attr('fill-opacity',0.33);
  }

  if (p.mesh) {
    const off = c => (c === undefined ? 0 : (parseInt(c, 36) - 4) * 0.006);
    const vertex = (i, j) => [meshX[i] + off(meshShiftX[i][j]), meshY[j] + off(meshShiftY[j][i])];
    const line = d3.line().x(d=>x(d[0])).y(d=>y(d[1]));
    const mg = plot.append('g').attr('fill','none').attr('stroke','#000')
      .attr('stroke-opacity',0.48).attr('stroke-width',1.2);
    meshX.forEach((_, i) => mg.append('path').attr('d', line(meshY.map((_, j) => vertex(i, j)))));
    meshY.forEach((_, j) => mg.append('path').attr('d', line(meshX.map((_, i) => vertex(i, j)))));
  }

  const curve = d3.line().x(d=>x(d[0])).y(d=>y(d[1])).curve(d3.curveCatmullRom.alpha(0.5));
  plot.append('path').attr('d',curve(trueBoundary)).attr('fill','none')
    .attr('stroke',BLUE).attr('stroke-width',3);
  plot.append('path').attr('d',curve(learnedBoundary)).attr('fill','none')
    .attr('stroke',ORANGE).attr('stroke-width',3).attr('stroke-linejoin','round');

  // adversarial perturbation and projection
  const pa = [x(adversarial[0]), y(adversarial[1])];
  const pt = [x(attackTarget[0]), y(attackTarget[1])];
  const pp = [x(p.projection[0]), y(p.projection[1])];
  drawArrow(plot, pa, pt, '#ff0000', 2.4, 10, 4.5);
  drawArrow(plot, pt, pp, '#000000', 2.4, 10, 4.5);
  plot.append('path').attr('d', d3.symbol(d3.symbolStar, 105)())
    .attr('transform',`translate(${pa[0]},${pa[1]})`).attr('fill','#000');

  // frame
  g.append('rect').attr('x',p.left).attr('y',p.top).attr('width',p.right-p.left).attr('height',p.bottom-p.top)
    .attr('fill','none').attr('stroke','#000').attr('stroke-width',0.8);

  // axes
  const fmt = d3.format('.1f');
  const ax = g.append('g').attr('transform',`translate(0,${p.bottom})`)
    .call(d3.axisBottom(x).tickValues(tickValues).tickFormat(fmt).tickSizeOuter(0).tickSizeInner(3.5).tickPadding(3.5));
  const ay = g.append('g').attr('transform',`translate(${p.left},0)`)
    .call(d3.axisLeft(y).tickValues(tickValues).tickFormat(fmt).tickSizeOuter(0).tickSizeInner(3.5).tickPadding(3.5));
  [ax, ay].forEach(a => {
    a.select('.domain').remove();
    a.selectAll('line').attr('stroke','#000').attr('stroke-width',0.8);
    a.selectAll('text').attr('font-family',FONT).attr('font-size',10).attr('fill','#000');
  });

  // axis labels
  const cx = (p.left + p.right) / 2;
  const xl = g.append('text').attr('x',cx).attr('y',540).attr('text-anchor','middle')
    .attr('font-family',SERIF).attr('font-size',27).attr('fill','#000');
  xl.append('tspan').attr('font-style','italic').text('x');
  xl.append('tspan').attr('font-size',18).attr('dy',5).text('1');
  if (p.yLabel) {
    const yl = g.append('text').attr('transform',`translate(27,${(p.top+p.bottom)/2}) rotate(-90)`)
      .attr('text-anchor','middle').attr('font-family',SERIF).attr('font-size',27).attr('fill','#000');
    yl.append('tspan').attr('font-style','italic').text('x');
    yl.append('tspan').attr('font-size',18).attr('dy',5).text('2');
  }

  // legend
  const L = p.legend;
  const lg = g.append('g');
  lg.append('rect').attr('x',L.x).attr('y',L.y).attr('width',L.w).attr('height',L.h).attr('rx',3)
    .attr('fill','#fff').attr('fill-opacity',0.8).attr('stroke','#d0d0d0').attr('stroke-width',1);
  const entries = [
    {kind:'line', color:BLUE, label:['True Classification Boundary']},
    {kind:'line', color:ORANGE, label:['Learned Classification Boundary']},
    {kind:'dot', color:TEAL, op:0.8, label:['Observed Data (', 'y', ' = 0)']},
    {kind:'dot', color:PINK, op:0.8, label:['Observed Data (', 'y', ' = 1)']}
  ];
  if (p.denoise) entries.push({kind:'dot', color:'#000', op:0.85, label:['De-noised Data']});
  const rowY = [28, 44.5, 64, 84.5, 103];
  entries.forEach((e, k) => {
    const yy = rowY[k];
    const hx = L.x + 4;
    if (e.kind === 'line') {
      lg.append('line').attr('x1',hx).attr('x2',hx+25).attr('y1',yy).attr('y2',yy)
        .attr('stroke',e.color).attr('stroke-width',3);
    } else {
      lg.append('circle').attr('cx',hx+12.5).attr('cy',yy+1).attr('r',2.6)
        .attr('fill',e.color).attr('fill-opacity',e.op);
    }
    const t = lg.append('text').attr('x',L.x+37).attr('y',yy+3.6)
      .attr('font-family',FONT).attr('font-size',10).attr('fill','#000');
    e.label.forEach((s, m) => {
      const ts = t.append('tspan').text(s);
      if (e.label.length === 3 && m === 1) ts.attr('font-style','italic');
    });
  });

  // caption: first line justified to the column width, second line with the same stretch
  const cap = g.append('g').attr('font-family',SERIF).attr('font-size',23).attr('fill','#000');
  const l1 = cap.append('text').attr('x',p.capX).attr('y',583).text(p.caption[0]);
  const l2 = cap.append('text').attr('x',p.capX).attr('y',610).text(p.caption[1]);
  const k = p.capLen / l1.node().getComputedTextLength();
  l1.attr('textLength',p.capLen).attr('lengthAdjust','spacingAndGlyphs');
  l2.attr('textLength',l2.node().getComputedTextLength() * k).attr('lengthAdjust','spacingAndGlyphs');
});
</script>
</body>
</html>
